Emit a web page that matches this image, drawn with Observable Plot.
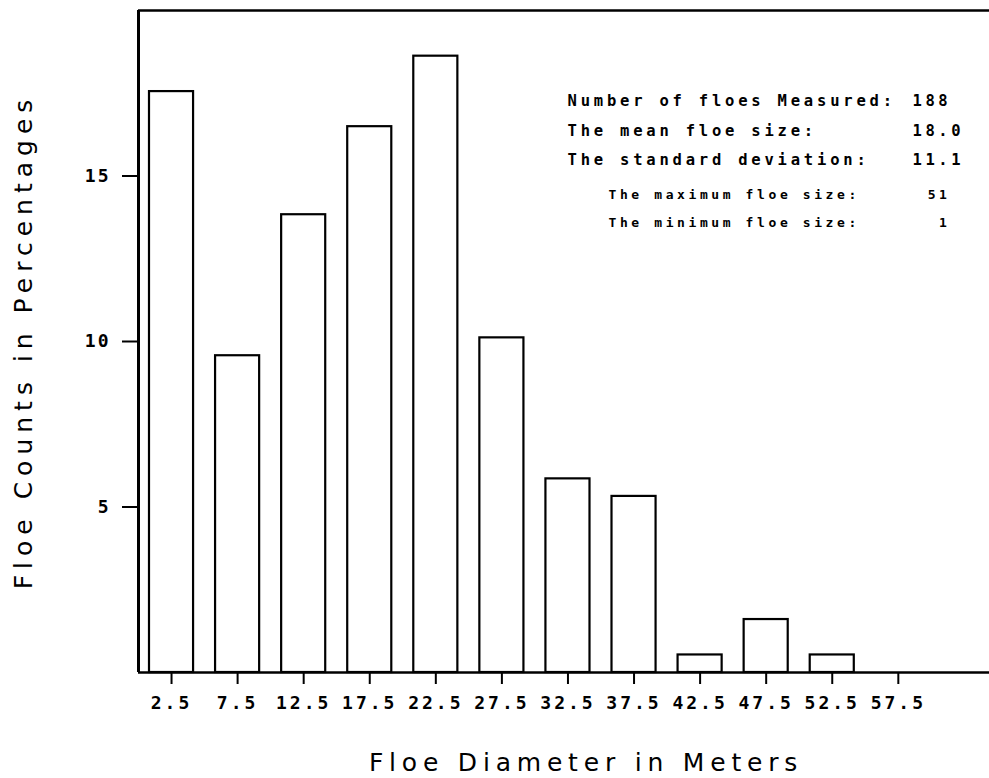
<!DOCTYPE html>
<html>
<head>
<meta charset="utf-8">
<script src="https://cdn.jsdelivr.net/npm/d3@7"></script>
<script src="https://cdn.jsdelivr.net/npm/@observablehq/plot@0.6"></script>
<style>
  html, body { margin: 0; padding: 0; background: #fff; }
  #chart svg { display: block; }
</style>
</head>
<body>
<div id="chart"></div>
<script>
// Floe diameter bins (meters)
const binLower = [0, 5, 10, 15, 20, 25, 30, 35, 40, 45, 50, 55];
const binUpper = [5, 10, 15, 20, 25, 30, 35, 40, 45, 50, 55, 60];
const binCenters = [2.5, 7.5, 12.5, 17.5, 22.5, 27.5, 32.5, 37.5, 42.5, 47.5, 52.5, 57.5];
// Floe counts in percentages (188 floes)
const percentages = [17.55, 9.57, 13.83, 16.49, 18.62, 10.11, 5.85, 5.32, 0.53, 1.60, 0.53, 0];
const yTicks = [5, 10, 15];
const statLabelsMain = ["Number of floes Measured:", "The mean floe size:", "The standard deviation:"];
const statValuesMain = ["188", "18.0", "11.1"];
const statLabelsMinor = ["The maximum floe size:", "The minimum floe size:"];
const statValuesMinor = ["51", "1"];

const data = binCenters.map((c, i) => ({lo: binLower[i], hi: binUpper[i], center: c, pct: percentages[i]}));

const mono = "DejaVu Sans Mono";
const sans = "DejaVu Sans";

const svg = Plot.plot({
  width: 989,
  height: 778,
  marginLeft: 138,
  marginRight: 0,
  marginTop: 10,
  marginBottom: 106,
  style: {background: "white", color: "black"},
  x: {domain: [0, 64.4], axis: null},
  y: {domain: [0, 20], axis: null},
  marks: [
    Plot.rectY(data, {x1: "lo", x2: "hi", y: "pct", insetLeft: 11, insetRight: 11,
      fill: "white", stroke: "black", strokeWidth: 2.2}),
    Plot.ruleY([0], {stroke: "black", strokeWidth: 2.6}),
    Plot.ruleY([20], {stroke: "black", strokeWidth: 2.4}),
    Plot.ruleX([0], {stroke: "black", strokeWidth: 3}),
    Plot.axisX(binCenters, {ticks: binCenters, tickSize: 12, tickPadding: 12, strokeWidth: 2,
      tickFormat: d => d.toFixed(1), label: null,
      fontSize: 18, fontFamily: mono, fontWeight: "bold"}),
    Plot.axisY(yTicks, {ticks: yTicks, tickSize: 16, tickPadding: 12, strokeWidth: 2,
      tickFormat: d => String(d), label: null,
      fontSize: 18, fontFamily: mono, fontWeight: "bold"}),
    // axis titles
    Plot.text(["Floe Counts in Percentages"], {frameAnchor: "left", rotate: -90, dx: -115,
      fontSize: 25, fontFamily: sans, textAnchor: "middle"}),
    Plot.text(["Floe Diameter in Meters"], {frameAnchor: "bottom", dx: 22, dy: 98,
      fontSize: 25, fontFamily: sans, textAnchor: "middle"}),
    // statistics block
    Plot.text([statLabelsMain.join("\n")], {frameAnchor: "top-left", dx: 429, dy: 116,
      textAnchor: "start", lineAnchor: "middle", lineHeight: 1.9,
      fontSize: 15.5, fontFamily: mono, fontWeight: "bold"}),
    Plot.text([statValuesMain.join("\n")], {frameAnchor: "top-left", dx: 774, dy: 116,
      textAnchor: "start", lineAnchor: "middle", lineHeight: 1.9,
      fontSize: 15.5, fontFamily: mono, fontWeight: "bold"}),
    Plot.text([statLabelsMinor.join("\n")], {frameAnchor: "top-left", dx: 470, dy: 193.5,
      textAnchor: "start", lineAnchor: "middle", lineHeight: 2.2,
      fontSize: 13, fontFamily: mono, fontWeight: "bold"}),
    Plot.text([statValuesMinor.join("\n")], {frameAnchor: "top-left", dx: 812, dy: 193.5,
      textAnchor: "end", lineAnchor: "middle", lineHeight: 2.2,
      fontSize: 13, fontFamily: mono, fontWeight: "bold"})
  ]
});

// letter spacing to mimic the plotter lettering
const sp = (sel, v) => svg.querySelectorAll(sel).forEach(n => n.setAttribute("letter-spacing", v));
sp("g[aria-label='x-axis tick label']", "3px");
sp("g[aria-label='y-axis tick label']", "2px");
const textGroups = svg.querySelectorAll("g[aria-label='text']");
const spacing = ["6px", "5.8px", "3.8px", "3.6px", "3.6px", "3.6px"];
textGroups.forEach((g, i) => g.setAttribute("letter-spacing", spacing[i] || "0px"));

document.getElementById("chart").appendChild(svg);
</script>
</body>
</html>
